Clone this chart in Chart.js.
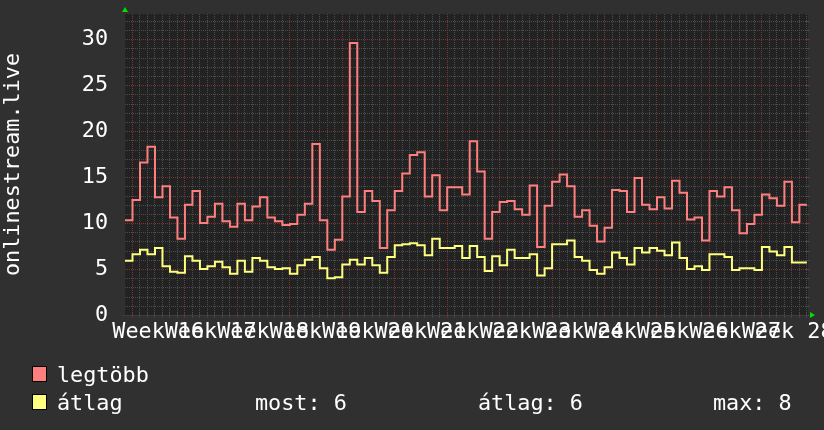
<!DOCTYPE html>
<html>
<head>
<meta charset="utf-8">
<script src="https://cdn.jsdelivr.net/npm/chart.js@4/dist/chart.umd.min.js"></script>
<style>
html, body { margin: 0; padding: 0; background: #303030; }
#wrap { position: relative; width: 824px; height: 430px; }
</style>
</head>
<body>
<div id="wrap"><canvas id="grafico" width="824" height="430"></canvas></div>
<script>
// napi értékek (91 nap, 16. héttől a 28. hétig)
const legtobb = [
    10.3, 12.5, 16.6, 18.3, 12.8, 14.0, 10.6, 8.3, 12.0, 13.5,
    10.0, 10.7, 12.1, 10.2, 9.6, 12.1, 10.3, 11.8, 12.8, 10.6,
    10.2, 9.8, 9.9, 10.9, 12.1, 18.6, 10.3, 7.1, 8.2, 12.9,
    29.6, 11.2, 13.5, 12.4, 7.3, 11.4, 13.5, 15.4, 17.4, 17.7,
    12.9, 15.2, 11.4, 13.9, 13.9, 13.1, 18.9, 15.6, 8.3, 11.2,
    12.3, 12.4, 11.5, 10.9, 14.1, 7.4, 11.9, 14.5, 15.3, 14.0,
    10.7, 11.4, 9.7, 8.0, 9.5, 13.6, 13.5, 11.2, 14.9, 12.0,
    11.5, 12.8, 11.6, 14.6, 13.3, 10.4, 10.6, 8.1, 13.5, 12.9,
    13.9, 11.4, 8.9, 9.9, 10.9, 13.1, 12.7, 11.9, 14.5, 10.1,
    12.0
];

const atlag = [
    5.9, 6.6, 7.1, 6.6, 7.3, 5.3, 4.7, 4.6, 6.4, 5.9,
    5.0, 5.3, 5.8, 5.2, 4.5, 5.9, 4.7, 6.2, 5.9, 5.2,
    5.0, 5.1, 4.5, 5.4, 6.0, 6.3, 5.1, 4.0, 4.1, 5.5,
    6.0, 5.5, 6.2, 5.4, 4.6, 6.3, 7.6, 7.7, 7.8, 7.6,
    6.5, 8.3, 7.3, 7.3, 7.5, 6.2, 7.5, 6.3, 4.8, 6.4,
    5.4, 7.1, 6.2, 6.2, 6.6, 4.3, 5.1, 7.7, 7.7, 8.1,
    6.3, 5.9, 4.9, 4.5, 5.2, 6.8, 6.2, 5.5, 7.3, 6.8,
    7.3, 7.0, 6.5, 7.9, 6.2, 5.0, 5.3, 4.9, 6.6, 6.6,
    6.3, 4.9, 5.1, 5.1, 4.9, 7.4, 6.9, 6.5, 7.4, 5.7,
    5.7
];

const sorozatNevek = ["legtöbb", "átlag"];
const sorozatSzinek = ["#ff7f7f", "#ffff7f"];

const hetek = [
    "Week 16", "Week 17", "Week 18", "Week 19", "Week 20", "Week 21", "Week 22",
    "Week 23", "Week 24", "Week 25", "Week 26", "Week 27", "Week 28"
];

const yCimkek = [0, 5, 10, 15, 20, 25, 30];
const tengelyCim = "onlinestream.live";

// a 16. hét kezdete a nap-tengelyen
const hetKezdet = 0.93;
const betu = "21.8px 'DejaVu Sans Mono'";
const fo = "#7a3636";
const mellek = "#4c4c4c";

function lepcsosPontok(ertekek){
    const pontok = ertekek.map((v, i) => ({ x: i, y: v }));
    pontok.push({ x: ertekek.length, y: ertekek[ertekek.length - 1] });
    return pontok;
}

const most = Math.round(atlag[atlag.length - 1]);
const atl = Math.round(atlag.reduce((a, b) => a + b, 0) / atlag.length);
const maxi = Math.round(Math.max(...atlag));

function vonal(ctx, x1, y1, x2, y2, szin){
    ctx.strokeStyle = szin;
    ctx.beginPath();
    ctx.moveTo(x1, y1);
    ctx.lineTo(x2, y2);
    ctx.stroke();
}

const hatter = {
    id: "hatter",
    beforeDraw(chart){
        const { ctx, chartArea: a } = chart;
        ctx.save();
        ctx.fillStyle = "#222222";
        ctx.fillRect(a.left, a.top, a.right - a.left, a.bottom - a.top);
        ctx.restore();
    },
    beforeDatasetsDraw(chart){
        const { ctx, chartArea: a } = chart;
        const xs = chart.scales.x;
        const ys = chart.scales.y;
        ctx.save();
        ctx.lineWidth = 1;
        const vonalak = [];
        legtobb.forEach((v, k) => {
            const px = Math.round(xs.getPixelForValue(hetKezdet + k)) + 0.5;
            if (px < a.right) vonalak.push({ f: true, p: px, fo: k % 7 === 0 });
        });
        for (let v = 0; v <= Math.floor(ys.max); v++) {
            const py = Math.round(ys.getPixelForValue(v)) + 0.5;
            vonalak.push({ f: false, p: py, fo: v % 5 === 0 && v > 0 });
        }
        const lent = Math.round(a.bottom) + 0.5;
        const jobb = Math.round(a.right) - 0.5;
        [false, true].forEach((melyik) => {
            vonalak.filter((l) => l.fo === melyik).forEach((l) => {
                const szin = melyik ? fo : mellek;
                ctx.setLineDash([1, 1]);
                if (l.f) vonal(ctx, l.p, a.top, l.p, a.bottom, szin);
                else vonal(ctx, a.left, l.p, a.right, l.p, szin);
                // kis osztásjelek a tengelyen
                ctx.setLineDash([]);
                if (l.f) vonal(ctx, l.p, lent - 2, l.p, lent + 2, szin);
                else vonal(ctx, jobb - 2, l.p, jobb + 2, l.p, szin);
            });
        });
        ctx.setLineDash([]);
        vonal(ctx, a.left - 3, lent, a.right, lent, "#3c3c3c");
        ctx.restore();
    },
    afterDraw(chart){
        const { ctx, chartArea: a } = chart;
        const xs = chart.scales.x;
        ctx.save();
        ctx.font = betu;
        ctx.fillStyle = "#ffffff";
        ctx.textAlign = "center";
        ctx.textBaseline = "alphabetic";
        hetek.forEach((h, w) => {
            const px = xs.getPixelForValue(hetKezdet + 7 * w + 3.5);
            ctx.fillText(h, px, 338);
        });

        // zöld nyilak
        ctx.fillStyle = "#00e000";
        ctx.beginPath();
        ctx.moveTo(a.left - 3, a.top - 2);
        ctx.lineTo(a.left + 3, a.top - 2);
        ctx.lineTo(a.left, a.top - 7);
        ctx.closePath();
        ctx.fill();
        ctx.beginPath();
        ctx.moveTo(a.right + 2, a.bottom - 3);
        ctx.lineTo(a.right + 2, a.bottom + 3);
        ctx.lineTo(a.right + 7, a.bottom);
        ctx.closePath();
        ctx.fill();

        // jelmagyarázat
        ctx.textAlign = "left";
        sorozatNevek.forEach((n, i) => {
            const y = 366 + i * 28;
            ctx.fillStyle = sorozatSzinek[i];
            ctx.fillRect(32, y, 15, 16);
            ctx.strokeStyle = "#000000";
            ctx.lineWidth = 1;
            ctx.strokeRect(32.5, y + 0.5, 14, 15);
            ctx.fillStyle = "#ffffff";
            ctx.fillText(n, 57, y + 16);
        });
        ctx.fillText("most: " + most, 255, 410);
        ctx.fillText("átlag: " + atl, 478, 410);
        ctx.fillText("max: " + maxi, 713, 410);
        ctx.restore();
    }
};

new Chart(document.getElementById("grafico"), {
    type: "line",
    data: {
        datasets: [
            {
                label: sorozatNevek[0],
                data: lepcsosPontok(legtobb),
                borderColor: sorozatSzinek[0],
                borderWidth: 2,
                pointRadius: 0,
                stepped: "before",
                fill: false
            },
            {
                label: sorozatNevek[1],
                data: lepcsosPontok(atlag),
                borderColor: sorozatSzinek[1],
                borderWidth: 2,
                pointRadius: 0,
                stepped: "before",
                fill: false
            }
        ]
    },
    options: {
        responsive: false,
        animation: false,
        devicePixelRatio: 1,
        layout: { padding: { top: 14, right: 16, left: 0, bottom: 0 } },
        plugins: {
            legend: { display: false },
            tooltip: { enabled: false }
        },
        scales: {
            x: {
                type: "linear",
                min: 0,
                max: 91.15,
                afterFit(scale){
                    scale.height = 115;
                    scale.paddingLeft = 0;
                    scale.paddingRight = 0;
                },
                ticks: { display: false },
                grid: { display: false },
                border: { display: false }
            },
            y: {
                min: 0,
                max: 32.75,
                afterBuildTicks(scale){
                    scale.ticks = yCimkek.map((v) => ({ value: v }));
                },
                afterFit(scale){
                    scale.width = 125;
                    scale.paddingTop = 0;
                    scale.paddingBottom = 0;
                },
                ticks: {
                    autoSkip: false,
                    padding: 17,
                    color: "#ffffff",
                    font: { family: "DejaVu Sans Mono", size: 21.8 }
                },
                title: {
                    display: true,
                    text: tengelyCim,
                    color: "#ffffff",
                    padding: 0,
                    font: { family: "DejaVu Sans Mono", size: 21.8 }
                },
                grid: { display: false, drawTicks: false },
                border: { display: false }
            }
        }
    },
    plugins: [hatter]
});
</script>
</body>
</html>
